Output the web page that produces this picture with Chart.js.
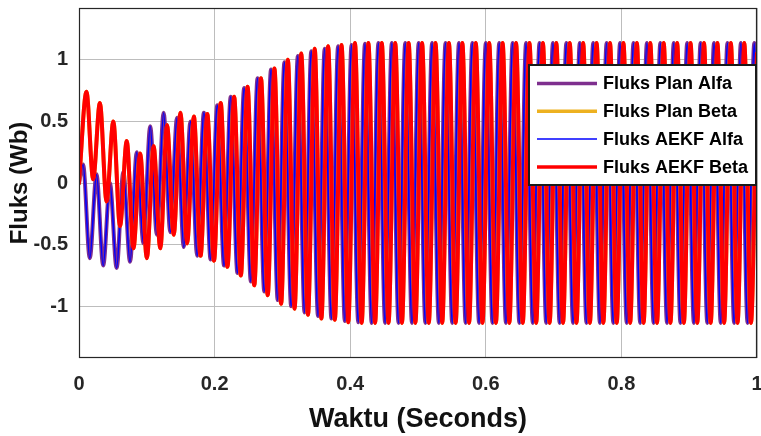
<!DOCTYPE html>
<html><head><meta charset="utf-8">
<script src="https://cdn.jsdelivr.net/npm/chart.js@4.4.0/dist/chart.umd.min.js"></script>
<style>html,body{margin:0;padding:0;background:#fff;} #wrap{position:relative;width:761px;height:436px;}</style>
</head><body><div id="wrap"><canvas id="c" width="761" height="436"></canvas></div>
<script>
const seriesNames = ['Fluks Plan Alfa', 'Fluks Plan Beta', 'Fluks AEKF Alfa', 'Fluks AEKF Beta'];
const xTicks = [0, 0.2, 0.4, 0.6, 0.8, 1];
const xTickLabels = ['0', '0.2', '0.4', '0.6', '0.8', '1'];
const yTicks = [-1, -0.5, 0, 0.5, 1];
const yTickLabels = ['-1', '-0.5', '0', '0.5', '1'];

// sampling grid of the extrema (seconds): first extremum and half-period spacing
const alfaFirstT = 0.006;
const betaFirstT = 0.011;
const halfPeriod = 0.0099;
// values at t = 0 and t = 1
const alfaStart = 0.0, betaStart = 0.0;
const alfaEnd = 0.35, betaEnd = 1.05;

// successive peaks / troughs of the alfa flux (Wb)
const alfaExtrema = [
  0.15, -0.61, 0.07, -0.67, 0.00, -0.69, 0.09, -0.64, 0.25, -0.49,
  0.46, -0.42, 0.57, -0.40, 0.53, -0.52, 0.50, -0.59, 0.57, -0.62,
  0.63, -0.67, 0.70, -0.73, 0.77, -0.80, 0.85, -0.88, 0.92, -0.95,
  0.98, -1.00, 1.03, -1.05, 1.07, -1.08, 1.09, -1.10, 1.11, -1.12,
  1.12, -1.13, 1.13, -1.135, 1.135, -1.135, 1.135, -1.135, 1.135, -1.135,
  1.135, -1.135, 1.135, -1.135, 1.135, -1.135, 1.135, -1.135, 1.135, -1.135,
  1.135, -1.135, 1.135, -1.135, 1.135, -1.135, 1.135, -1.135, 1.135, -1.135,
  1.135, -1.135, 1.135, -1.135, 1.135, -1.135, 1.135, -1.135, 1.135, -1.135,
  1.135, -1.135, 1.135, -1.135, 1.135, -1.135, 1.135, -1.135, 1.135, -1.135,
  1.135, -1.135, 1.135, -1.135, 1.135, -1.135, 1.135, -1.135, 1.135, -1.135,
  1.135
];
// successive peaks / troughs of the beta flux (Wb)
const betaExtrema = [
  0.74, 0.03, 0.65, -0.15, 0.50, -0.35, 0.34, -0.53, 0.24, -0.61,
  0.30, -0.53, 0.47, -0.42, 0.57, -0.49, 0.54, -0.59, 0.56, -0.63,
  0.65, -0.68, 0.70, -0.75, 0.78, -0.83, 0.85, -0.91, 0.93, -0.98,
  1.00, -1.02, 1.05, -1.07, 1.09, -1.10, 1.11, -1.11, 1.12, -1.13,
  1.135, -1.135, 1.135, -1.135, 1.135, -1.135, 1.135, -1.135, 1.135, -1.135,
  1.135, -1.135, 1.135, -1.135, 1.135, -1.135, 1.135, -1.135, 1.135, -1.135,
  1.135, -1.135, 1.135, -1.135, 1.135, -1.135, 1.135, -1.135, 1.135, -1.135,
  1.135, -1.135, 1.135, -1.135, 1.135, -1.135, 1.135, -1.135, 1.135, -1.135,
  1.135, -1.135, 1.135, -1.135, 1.135, -1.135, 1.135, -1.135, 1.135, -1.135,
  1.135, -1.135, 1.135, -1.135, 1.135, -1.135, 1.135, -1.135, 1.135, -1.135
];

function toPoints(startVal, firstT, extrema, endVal) {
  const pts = [{ x: 0, y: startVal }];
  extrema.forEach((v, k) => pts.push({ x: firstT + k * halfPeriod, y: v }));
  pts.push({ x: 1, y: endVal });
  return pts;
}
const alfaPts = toPoints(alfaStart, alfaFirstT, alfaExtrema, alfaEnd);
const betaPts = toPoints(betaStart, betaFirstT, betaExtrema, betaEnd);

const FONT = '"Liberation Sans", Arial, Helvetica, sans-serif';
const legendStyles = [
  { color: '#7E2F8E', width: 3.5 },
  { color: '#EDB120', width: 3.5 },
  { color: '#0000FF', width: 1.5 },
  { color: '#FF0000', width: 3.5 }
];

const frameAndLegend = {
  id: 'frameAndLegend',
  afterDraw(chart) {
    const ctx = chart.ctx, a = chart.chartArea;
    ctx.save();
    ctx.strokeStyle = '#262626';
    ctx.lineWidth = 1.2;
    ctx.strokeRect(a.left + 0.5, a.top + 0.5, a.right - a.left - 1, a.bottom - a.top - 1);
    const bx = 529, by = 65, bw = 227, bh = 120;
    ctx.fillStyle = '#ffffff';
    ctx.fillRect(bx, by, bw, bh);
    ctx.lineWidth = 2;
    ctx.strokeStyle = '#1a1a1a';
    ctx.strokeRect(bx, by, bw, bh);
    ctx.font = 'bold 18px ' + FONT;
    ctx.textBaseline = 'middle';
    ctx.textAlign = 'left';
    seriesNames.forEach((name, i) => {
      const y = 83.5 + i * 27.8;
      ctx.beginPath();
      ctx.strokeStyle = legendStyles[i].color;
      ctx.lineWidth = legendStyles[i].width;
      ctx.moveTo(537, y);
      ctx.lineTo(597, y);
      ctx.stroke();
      ctx.fillStyle = '#000000';
      ctx.fillText(name, 603, y + 1);
    });
    ctx.restore();
  }
};

const common = { pointRadius: 0, fill: false, cubicInterpolationMode: 'monotone', borderJoinStyle: 'round', borderCapStyle: 'round' };

new Chart(document.getElementById('c'), {
  type: 'line',
  data: {
    datasets: [
      Object.assign({ label: seriesNames[0], data: alfaPts, borderColor: '#7E2F8E', borderWidth: 4, order: 3 }, common),
      Object.assign({ label: seriesNames[1], data: betaPts, borderColor: '#EDB120', borderWidth: 4, order: 2 }, common),
      Object.assign({ label: seriesNames[2], data: alfaPts, borderColor: '#0000FF', borderWidth: 1.6, order: 1 }, common),
      Object.assign({ label: seriesNames[3], data: betaPts, borderColor: '#FF0000', borderWidth: 4, order: 0 }, common)
    ]
  },
  options: {
    responsive: false,
    animation: false,
    devicePixelRatio: 1,
    parsing: false,
    normalized: true,
    layout: { padding: { top: 8, right: 4, left: 0, bottom: 0 } },
    plugins: { legend: { display: false }, tooltip: { enabled: false } },
    scales: {
      x: {
        type: 'linear', min: 0, max: 1,
        afterBuildTicks: s => { s.ticks = xTicks.map(v => ({ value: v })); },
        afterFit: s => { s.height = 78; s.paddingLeft = 0; s.paddingRight = 0; },
        ticks: {
          callback: v => xTickLabels[xTicks.indexOf(v)],
          color: '#262626', font: { family: FONT, size: 20, weight: 'bold' },
          padding: 14, maxRotation: 0, autoSkip: false
        },
        grid: { color: '#bdbdbd', lineWidth: 1, drawTicks: false },
        border: { display: false },
        title: { display: true, text: 'Waktu (Seconds)', color: '#111111', font: { family: FONT, size: 27, weight: 'bold' }, padding: { top: 5, bottom: 0 } }
      },
      y: {
        type: 'linear', min: -1.42, max: 1.42,
        afterBuildTicks: s => { s.ticks = yTicks.map(v => ({ value: v })); },
        afterFit: s => { s.width = 79; s.paddingTop = 0; s.paddingBottom = 0; },
        ticks: {
          callback: v => yTickLabels[yTicks.indexOf(v)],
          color: '#262626', font: { family: FONT, size: 20, weight: 'bold' },
          padding: 11, autoSkip: false
        },
        grid: { color: '#bdbdbd', lineWidth: 1, drawTicks: false },
        border: { display: false },
        title: { display: true, text: 'Fluks (Wb)', color: '#111111', font: { family: FONT, size: 24, weight: 'bold' }, padding: { top: 6, bottom: 0 } }
      }
    }
  },
  plugins: [frameAndLegend]
});
</script>
</body></html>
